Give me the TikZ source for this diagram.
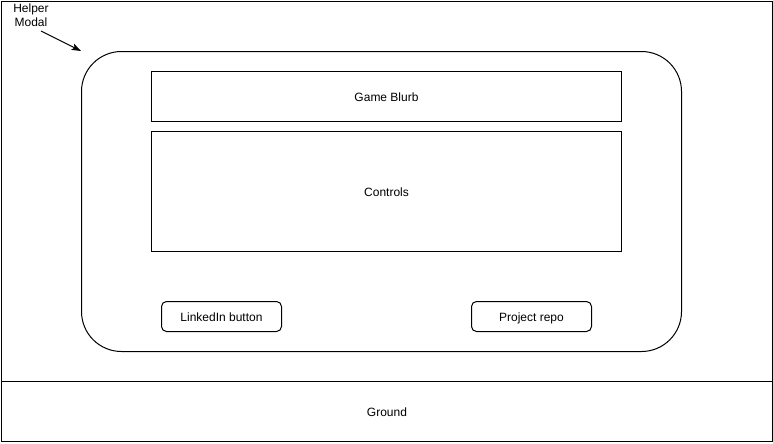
\documentclass[tikz,border=0pt]{standalone}
\usepackage{fontspec}
\setmainfont{Liberation Sans}
\usetikzlibrary{arrows.meta}
\begin{document}
\begin{tikzpicture}[x=0.75pt,y=-0.75pt,
  line width=0.75pt,
  font=\fontsize{9pt}{10.5pt}\selectfont,
  box/.style={draw=black,inner sep=0pt,anchor=north west,text height=7pt,text depth=0pt},
  btn/.style={box,rounded corners=3.75pt,minimum width=90pt,minimum height=22.5pt}]
  \useasboundingbox[fill=white] (0,0) rectangle (773,443);
  % scene and ground
  \node[box,minimum width=578.25pt,minimum height=285pt] (scene) at (1,1) {};
  \node[box,minimum width=578.25pt,minimum height=45pt] (ground) at (1,381) {Ground};
  % modal window
  \node[box,rounded corners=30pt,minimum width=450pt,minimum height=225pt] (modal) at (81,51) {};
  \node[box,minimum width=352.5pt,minimum height=37.5pt] (blurb) at (151,71) {Game Blurb};
  \node[box,minimum width=352.5pt,minimum height=90pt] (controls) at (151,131) {Controls};
  \node[btn] (linkedin) at (161,301) {LinkedIn button};
  \node[btn] (repo) at (471,301) {Project repo};
  % label pointing at the modal
  \node[align=center,inner sep=0pt] (label) at (31,15) {Helper\\Modal};
  \coordinate (tail) at (41,31);
  \coordinate (tip) at (81,51);
  \draw[-{Stealth[length=7pt,width=5pt,inset=1.5pt]}] (tail) -- (tip);
\end{tikzpicture}
\end{document}
